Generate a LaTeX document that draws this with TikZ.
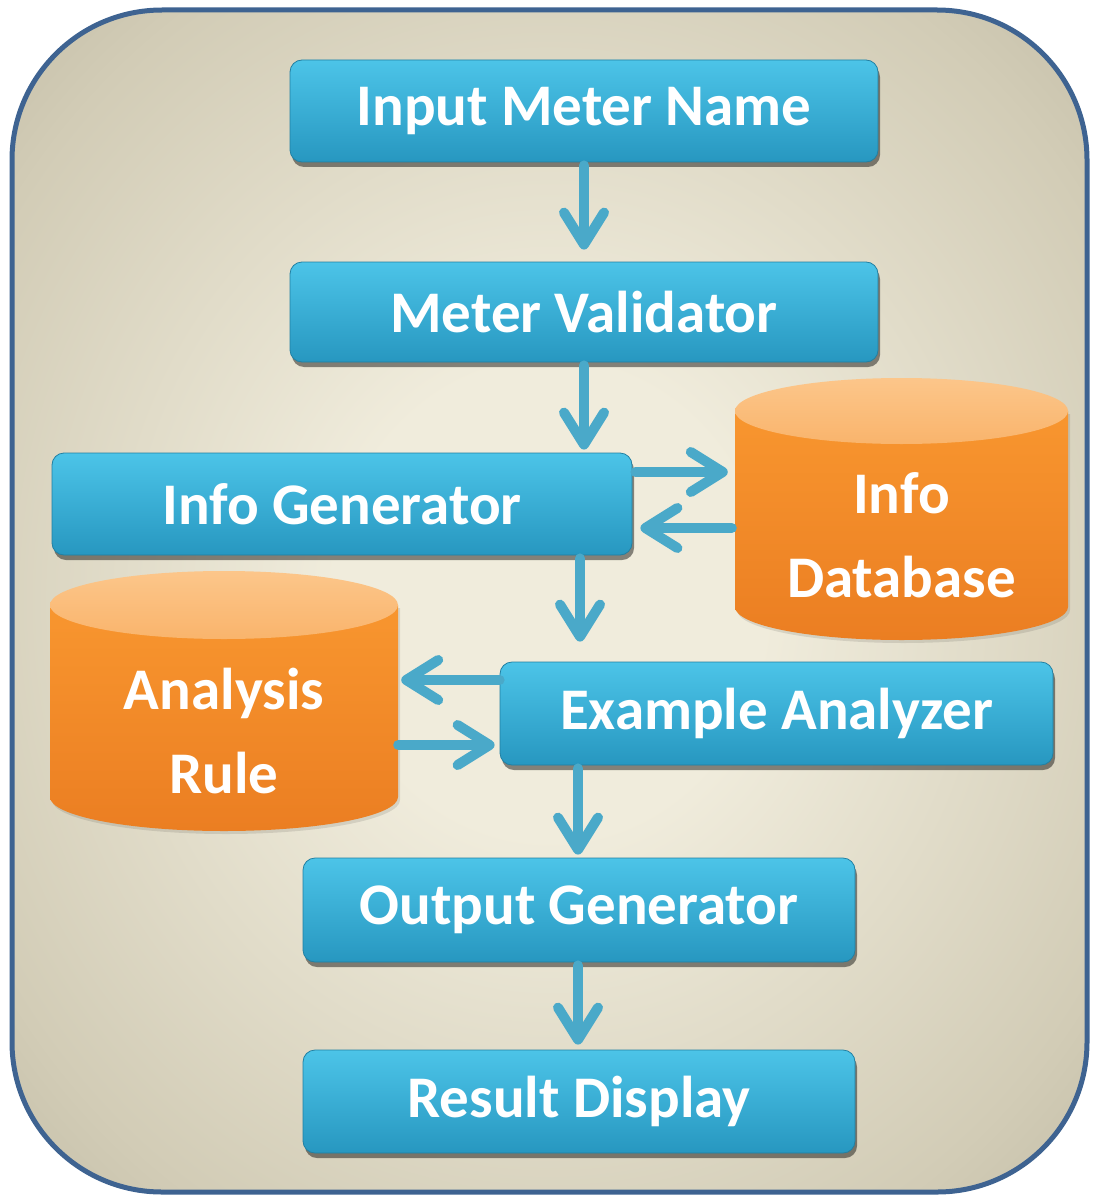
\documentclass[tikz,border=0pt]{standalone}
\usepackage{fontspec}
\setmainfont{Carlito}
\usetikzlibrary{arrows.meta,shadows,calc}
\definecolor{bgin}{HTML}{F0ECDC}
\definecolor{bgmid}{HTML}{D2CCB6}
\definecolor{bgout}{HTML}{A9A48E}
\definecolor{framec}{HTML}{3E6391}
\definecolor{boxtop}{HTML}{4CC4E8}
\definecolor{boxbot}{HTML}{2797C0}
\definecolor{arrowc}{HTML}{4AA9C9}
\definecolor{cylbody}{HTML}{F8962F}
\definecolor{cylbot}{HTML}{EB7E22}
\definecolor{cyltop}{HTML}{FCC68A}
\definecolor{cyltopb}{HTML}{F9B46C}
\pgfdeclareradialshading{bgshade}{\pgfpoint{0bp}{0bp}}{%
  color(0bp)=(bgin); color(10bp)=(bgin); color(30bp)=(bgmid); color(48bp)=(bgout); color(100bp)=(bgout)}
\begin{document}
\begin{tikzpicture}[x=1pt,y=-1pt,
  txt/.style={text=white, font=\fontsize{59}{84}\selectfont\bfseries, inner sep=0pt},
  box/.style={txt, rectangle, rounded corners=12pt, top color=boxtop, bottom color=boxbot,
    draw=boxbot!85!black, line width=0.8pt,
    drop shadow={shadow xshift=2pt, shadow yshift=-5pt, opacity=0.45, fill=black}},
  cyltxt/.style={txt, align=center},
  arr/.style={draw=arrowc, line width=10pt, line cap=round,
    -{Straight Barb[length=32pt, width=40pt, round]}},
  bodysty/.style={top color=cylbody, bottom color=cylbot},
  topsty/.style={top color=cyltop, bottom color=cyltopb},
  cshadow/.style={fill=black, opacity=0.10}
]
\useasboundingbox (0,0) rectangle (1097,1201);
% outer frame
\draw[draw=framec, line width=5pt, rounded corners=150pt, shading=bgshade] (12,10) rectangle (1087,1192);

% process boxes
\node[box, minimum width=588pt, minimum height=102pt] (in)  at (584,111)    {Input Meter Name};
\node[box, minimum width=588pt, minimum height=100pt] (val) at (584,312)    {Meter Validator};
\node[box, minimum width=580pt, minimum height=102pt] (ig)  at (342,504)    {Info Generator};
\node[box, minimum width=553pt, minimum height=103pt] (ea)  at (776.5,713.5) {Example Analyzer};
\node[box, minimum width=552pt, minimum height=104pt] (og)  at (579,910)    {Output Generator};
\node[box, minimum width=552pt, minimum height=103pt] (rd)  at (579,1101.5) {Result Display};

% Info Database cylinder
\fill[cshadow] (737,414) -- (737,610) arc[start angle=180, end angle=360, x radius=166.5pt, y radius=33pt] -- (1070,414) -- cycle;
\path[bodysty] (735,411) -- (735,607) arc[start angle=180, end angle=360, x radius=166.5pt, y radius=33pt] -- (1068,411) -- cycle;
\path[topsty] (901.5,411) ellipse[x radius=166.5pt, y radius=33pt];
\node[cyltxt, minimum width=333pt] (db) at (901.5,535) {Info\\Database};

% Analysis Rule cylinder
\fill[cshadow] (52,608) -- (52,800) arc[start angle=180, end angle=360, x radius=174pt, y radius=34pt] -- (400,608) -- cycle;
\path[bodysty] (50,605) -- (50,797) arc[start angle=180, end angle=360, x radius=174pt, y radius=34pt] -- (398,605) -- cycle;
\path[topsty] (224,605) ellipse[x radius=174pt, y radius=34pt];
\node[cyltxt, minimum width=348pt] (ar) at (224,731) {Analysis\\Rule};

% helper coordinates
\coordinate (xa) at (580,0);
\coordinate (xb) at (578,0);
\coordinate (ya) at (0,472);
\coordinate (yb) at (0,528);
\coordinate (yc) at (0,680);
\coordinate (yd) at (0,745);

% connectors
\draw[arr, shorten <=3pt, shorten >=12pt] (in.south) -- (val.north);
\draw[arr, shorten <=3pt, shorten >=3pt] (val.south) -- (val.south |- ig.north);
\draw[arr, shorten <=3pt, shorten >=7pt] (ig.east |- ya) -- (db.west |- ya);
\draw[arr, shorten <=3pt, shorten >=8pt] (db.west |- yb) -- (ig.east |- yb);
\draw[arr, shorten <=3pt, shorten >=20pt] (ig.south -| xa) -- (ea.north -| xa);
\draw[arr, shorten <=0pt, shorten >=3pt] (ea.west |- yc) -- (ar.east |- yc);
\draw[arr, shorten <=0pt, shorten >=5pt] (ar.east |- yd) -- (ea.west |- yd);
\draw[arr, shorten <=3pt, shorten >=3pt] (ea.south -| xb) -- (og.north -| xb);
\draw[arr, shorten <=3pt, shorten >=5pt] (og.south -| xb) -- (rd.north -| xb);
\end{tikzpicture}
\end{document}
